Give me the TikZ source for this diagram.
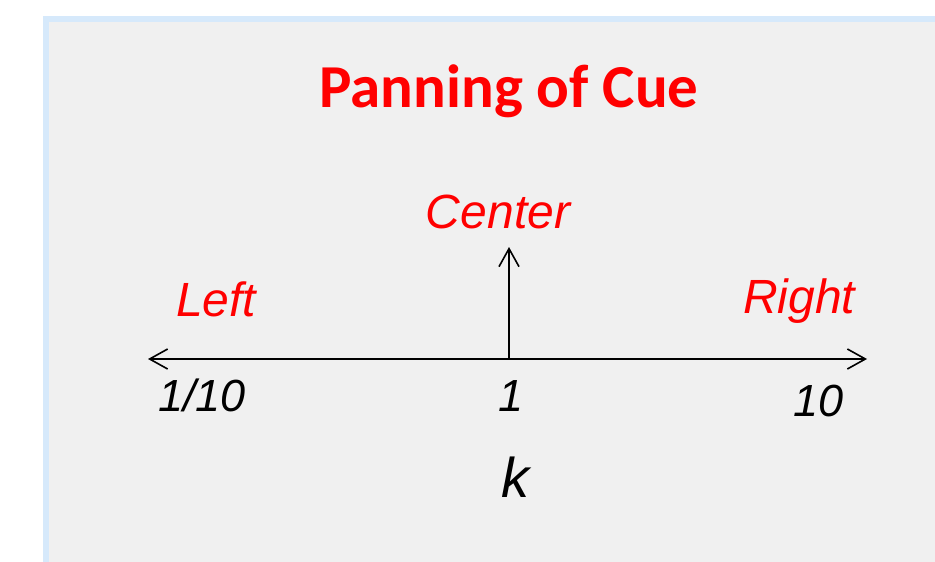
\documentclass[tikz,border=0pt]{standalone}
\usepackage{fontspec}
\setmainfont{Liberation Sans}
\newfontfamily\titlefont{Carlito}
\usetikzlibrary{arrows.meta}
\definecolor{panelfill}{HTML}{F0F0F0}
\definecolor{panelrim}{HTML}{D6E9FB}
\definecolor{cuered}{HTML}{FF0000}
\tikzset{
  x=1pt, y=-1pt,
  axisline/.style={line width=1.6pt, -{Straight Barb[length=18pt, width=20pt, line width=1.6pt]}},
  pantag/.style={text=cuered, inner sep=0pt, font=\fontsize{48}{52}\selectfont\itshape},
  ticktag/.style={text=black, inner sep=0pt, font=\fontsize{45}{49}\selectfont\itshape},
}
\begin{document}
\begin{tikzpicture}
  \useasboundingbox (0,0) rectangle (935,562);
  % panel with its light blue rim
  \fill[panelrim] (43,16) rectangle (935,562);
  \fill[panelfill] (49,22) rectangle (935,562);

  % title
  \node[anchor=base, inner sep=0pt, text=cuered, font=\titlefont\bfseries\fontsize{61}{66}\selectfont]
    (title) at (509,107) {Panning of Cue};

  % axis
  \coordinate (axL) at (148,359);
  \coordinate (axR) at (867,359);
  \coordinate (axC) at (509,359);
  \coordinate (axTop) at (509,247);
  \draw[axisline] (axC) -- (axL);
  \draw[axisline] (axC) -- (axR);
  \draw[axisline] (axC) -- (axTop);

  % direction labels
  \node[pantag, anchor=base] (center) at (498,228) {Center};
  \node[pantag, anchor=base west] (left) at (176,316) {Left};
  \node[pantag, anchor=base west] (right) at (743,313) {Right};

  % tick values
  \node[ticktag, anchor=base west] (tenth) at (158,411) {1/10};
  \node[ticktag, anchor=base] (one) at (511,411) {1};
  \node[ticktag, anchor=base west] (ten) at (793,416) {10};

  % axis variable
  \node[inner sep=0pt, anchor=base, font=\fontsize{56}{60}\selectfont\itshape] (kvar) at (515,497) {k};
\end{tikzpicture}
\end{document}
